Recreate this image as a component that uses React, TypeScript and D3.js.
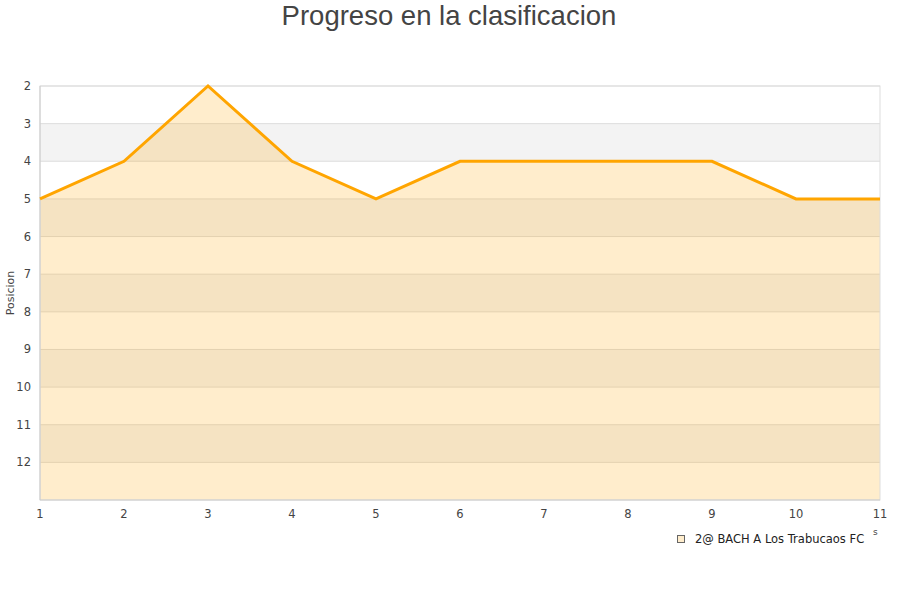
import React, {useEffect, useRef} from 'react';
import * as d3 from 'd3';

const jornadas = [1, 2, 3, 4, 5, 6, 7, 8, 9, 10, 11];
const posiciones = [5, 4, 2, 4, 5, 4, 4, 4, 4, 5, 5];
const yTicks = [2, 3, 4, 5, 6, 7, 8, 9, 10, 11, 12];
const seriesName = '2@ BACH A Los Trabucaos FC';

export default function App() {
  const ref = useRef<SVGSVGElement>(null);

  useEffect(() => {
    const svg = d3.select(ref.current);
    svg.selectAll('*').remove();

    const margin = {top: 86, right: 20, bottom: 100, left: 40};
    const width = 900 - margin.left - margin.right;
    const height = 600 - margin.top - margin.bottom;

    const x = d3.scaleLinear().domain([1, 11]).range([0, width]);
    const y = d3.scaleLinear().domain([2, 13]).range([0, height]);

    svg.append('text')
      .attr('x', 449)
      .attr('y', 25)
      .attr('text-anchor', 'middle')
      .style('font-family', 'Liberation Sans, Arial, sans-serif')
      .style('font-size', '27.5px')
      .attr('fill', '#444')
      .text('Progreso en la clasificacion');

    const g = svg.append('g')
      .attr('transform', `translate(${margin.left},${margin.top})`);

    // alternating bands
    const bands = d3.range(2, 13);
    g.selectAll('.band')
      .data(bands)
      .enter().append('rect')
      .attr('x', 0)
      .attr('y', d => y(d))
      .attr('width', width)
      .attr('height', d => y(d + 1) - y(d))
      .attr('fill', d => (d % 2 === 1 ? '#f3f3f3' : '#ffffff'));

    g.selectAll('.grid')
      .data(yTicks)
      .enter().append('line')
      .attr('x1', 0)
      .attr('x2', width)
      .attr('y1', d => y(d))
      .attr('y2', d => y(d))
      .attr('stroke', '#dddddd')
      .attr('stroke-width', 1);

    const pts = jornadas.map((j, i) => [j, posiciones[i]] as [number, number]);

    const area = d3.area<[number, number]>()
      .x(d => x(d[0]))
      .y0(height)
      .y1(d => y(d[1]));

    g.append('path')
      .datum(pts)
      .attr('d', area)
      .attr('fill', 'rgba(255,165,0,0.2)');

    g.append('rect')
      .attr('x', 0)
      .attr('y', 0)
      .attr('width', width)
      .attr('height', height)
      .attr('fill', 'none')
      .attr('stroke', '#dddddd');

    g.append('line')
      .attr('x1', 0).attr('x2', 0).attr('y1', 0).attr('y2', height)
      .attr('stroke', '#cccccc');
    g.append('line')
      .attr('x1', 0).attr('x2', width).attr('y1', height).attr('y2', height)
      .attr('stroke', '#cccccc');

    const line = d3.line<[number, number]>()
      .x(d => x(d[0]))
      .y(d => y(d[1]));

    g.append('path')
      .datum(pts)
      .attr('d', line)
      .attr('fill', 'none')
      .attr('stroke', '#ffa500')
      .attr('stroke-width', 3);

    const tickFont = 'DejaVu Sans, sans-serif';

    g.selectAll('.ytick')
      .data(yTicks)
      .enter().append('text')
      .attr('x', -9)
      .attr('y', d => y(d) + 4)
      .attr('text-anchor', 'end')
      .style('font-family', tickFont)
      .style('font-size', '11.5px')
      .attr('fill', '#444')
      .text(d => d);

    g.selectAll('.xtick')
      .data(jornadas)
      .enter().append('text')
      .attr('x', d => x(d))
      .attr('y', height + 18)
      .attr('text-anchor', 'middle')
      .style('font-family', tickFont)
      .style('font-size', '11.5px')
      .attr('fill', '#444')
      .text(d => d);

    svg.append('text')
      .attr('transform', 'translate(14,293) rotate(-90)')
      .attr('text-anchor', 'middle')
      .style('font-family', tickFont)
      .style('font-size', '11px')
      .attr('fill', '#444')
      .text('Posicion');

    svg.append('text')
      .attr('x', 873)
      .attr('y', 535)
      .style('font-family', tickFont)
      .style('font-size', '9px')
      .attr('fill', '#444')
      .text('s');

    // legend
    svg.append('rect')
      .attr('x', 677.5)
      .attr('y', 535.5)
      .attr('width', 7)
      .attr('height', 7)
      .attr('fill', '#ffedcc')
      .attr('stroke', '#666');

    svg.append('text')
      .attr('x', 695)
      .attr('y', 543)
      .style('font-family', tickFont)
      .style('font-size', '11.5px')
      .attr('fill', '#222')
      .text(seriesName);
  }, []);

  return <svg ref={ref} width={900} height={600} style={{display: 'block', position: 'absolute', left: 0, top: 0}}></svg>;
}
